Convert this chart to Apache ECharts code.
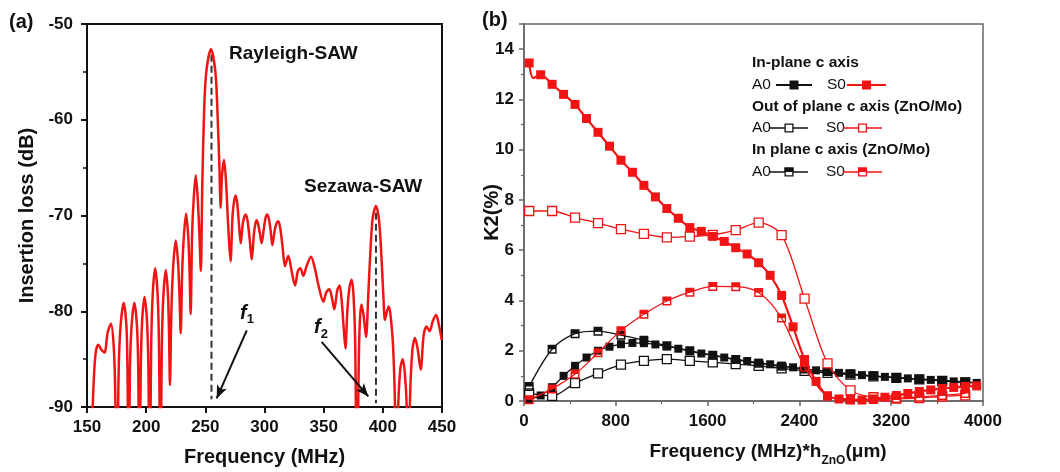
<!DOCTYPE html>
<html><head><meta charset="utf-8">
<script src="https://cdn.jsdelivr.net/npm/echarts@6/dist/echarts.min.js"></script>
<style>html,body{margin:0;padding:0;background:#fff}#c{width:1060px;height:472px}</style>
</head><body><div id="c"></div>
<script>
// ---------- Panel (a): insertion loss spectrum (MHz, dB) ----------
const freqA = [154.5,156,157.5,159.6,162,164.8,167.5,170.3,172.5,173.8,175.2,
  176.8,178.4,181,183.3,184.2,185.2,
  186.3,187.7,190,192.2,193.3,194.3,
  195.4,196.6,198.6,200.7,201.9,203,
  204.2,205.5,207.6,209.7,210.9,212,
  213.2,214.5,216.6,218.5,219.4,220.1,
  221.3,222.9,225,227,228.2,229.2,
  230.4,231.8,233.7,235.6,236.7,237.6,
  238.8,240.2,241.9,243.6,245,246.2,
  247.4,249,250.8,254.8,258.5,260.2,261.9,263,
  264,265.8,267.5,269.5,271.3,
  273,274.3,275.6,277,278.6,279.9,
  281.5,282.8,284.1,285.6,287.5,289.2,
  291,292.2,293.4,294.6,296,297.6,
  299.5,301,302.4,303.8,305.2,306.6,
  308.7,310.2,311.7,313.3,315.3,317.3,
  320.1,322.9,325.8,328.2,330.3,332.8,335.5,339.3,342.5,346,349.7,352.3,354.8,357,359,
  361.5,363.5,365.3,366.8,368.4,370,371.8,373.7,375.3,376.6,378.2,379.7,380.8,382,383.8,385.8,
  387.8,389.6,391.5,394.2,396.8,398.7,400.5,401.8,403.5,405,406.6,408.8,410.7,411.5,
  413,414.8,416.8,418.6,420.2,421.4,
  423,425,427.2,429.5,432,434.5,437,439.5,442.3,445,447.5,449.8];
const lossA = [-91,-86.5,-84.2,-83.5,-84,-84.3,-82.2,-81.3,-83.5,-88,-100,
  -86,-81.5,-79.1,-81.5,-86,-100,
  -86,-81.5,-79.1,-81.5,-86,-100,
  -86,-81,-78.5,-81,-86,-100,
  -84,-78.3,-75.5,-78.3,-84,-100,
  -84,-78.5,-75.7,-78.5,-83,-87.7,
  -80,-75.2,-72.6,-75,-78.5,-82.3,
  -76,-72.3,-69.8,-72.3,-76,-80.3,
  -72,-68.2,-65.8,-68.3,-72,-75.8,
  -67,-59,-55,-52.6,-55,-59,-65,-69.2,
  -66,-64.2,-66.5,-71.5,-74.8,
  -70,-68.5,-67.9,-68.8,-71.2,-72.9,
  -71,-70.2,-69.9,-70.5,-72.5,-74.6,
  -72,-70.9,-70.5,-70.9,-71.8,-72.9,
  -71.3,-70.2,-69.9,-70.4,-71.6,-73.1,
  -71.5,-70.8,-70.6,-71.3,-73.3,-75.3,
  -74.2,-75.8,-77.3,-75.8,-75.5,-76.3,-75.3,-74.3,-75.5,-77.5,-79.0,-78,-77.7,-78.6,-79.8,
  -77.8,-77.3,-79,-81.5,-83.9,-80,-77.5,-76.7,-78.5,-83,-100,-85,-80.5,-79.3,-80.5,-82.7,
  -78,-73.5,-70.2,-69.0,-70.5,-74,-78.5,-80.9,-80,-79.5,-80.5,-84,-92,-100,
  -90,-86,-85,-86.5,-90,-100,
  -89,-84,-82.8,-84,-86.1,-82.5,-81.6,-82.1,-81,-80.4,-81.5,-83];
const peakFreqs = [255.2, 394.2];       // f1, f2 (dashed markers)
const peakTopLoss = [-53.2, -69.7];
const peakBottomLoss = [-89.2, -89.6];
const arrowFrom = [[285, -82.0], [348.3, -83.2]];
const arrowTo = [[259.6, -89.1], [387.7, -88.9]];
const labelA = ['Rayleigh-SAW', 'Sezawa-SAW'];
const labelAPos = [[270, -53.1], [333.4, -67.0]];
const fLabelPos = [[285.2, -80.2], [347.8, -81.7]];

// ---------- Panel (b): K2 (%) vs Frequency (MHz)*h_ZnO (um) ----------
const xFine = [45,145,245,345,445,545,645,745,845,945,1045,1145,1245,1345,1445,1545,1645,1745,1845,1945,
  2045,2145,2245,2345,2445,2545,2645,2745,2845,2945,3045,3145,3245,3345,3445,3545,3645,3745,3845,3945];
const xCoarse = [45,245,445,645,845,1045,1245,1445,1645,1845,2045,2245,2445,2645,2845,3045,3245,3445,3645,3845];
const inPlaneS0 = [13.45,12.98,12.6,12.2,11.8,11.24,10.69,10.14,9.58,9.1,8.58,8.12,7.66,7.27,6.9,6.75,6.55,6.35,6.1,5.85,
  5.5,5.0,4.2,2.95,1.65,0.78,0.2,0.08,0.04,0.04,0.08,0.15,0.22,0.3,0.38,0.44,0.5,0.54,0.58,0.6];
const inPlaneS0Dip = [80, 12.85];
const inPlaneA0 = [0.05,0.22,0.55,1.0,1.4,1.73,2.0,2.16,2.26,2.31,2.3,2.25,2.17,2.08,1.98,1.89,1.81,1.73,1.66,1.59,
  1.52,1.46,1.4,1.34,1.28,1.22,1.17,1.12,1.07,1.03,0.99,0.96,0.93,0.9,0.87,0.84,0.81,0.78,0.75,0.72];
const outPlaneS0 = [7.56,7.56,7.3,7.08,6.84,6.65,6.51,6.54,6.61,6.8,7.1,6.6,4.07,1.5,0.42,0.15,0.1,0.12,0.18,0.22];
const outPlaneA0 = [0.3,0.2,0.71,1.1,1.45,1.6,1.67,1.6,1.54,1.47,1.4,1.3,1.2,1.12,1.05,0.98,0.92,0.86,0.8,0.74];
const znoMoS0 = [0.05,0.48,1.07,1.92,2.8,3.45,3.98,4.33,4.56,4.55,4.32,3.3,1.35,0.2,0.08,0.06,0.1,0.15,0.22,0.3];
const znoMoA0 = [0.58,2.06,2.68,2.78,2.62,2.42,2.2,2.0,1.82,1.65,1.5,1.38,1.27,1.17,1.08,1.0,0.93,0.87,0.82,0.76];

const FONT = '"Liberation Sans", Arial, sans-serif';
const RED = '#f01414';
const HALF = 'path://M0,0L10,0L10,10L0,10Z M1.6,5L1.6,8.4L8.4,8.4L8.4,5Z';
const zip = (xs, ys) => xs.map((x, i) => [x, ys[i]]);

const chart = echarts.init(document.getElementById('c'));

function bSeries(xs, ys, color, kind, lw, size, z) {
  const s = {
    type: 'line', xAxisIndex: 1, yAxisIndex: 1, data: zip(xs, ys), smooth: 0.3,
    lineStyle: { color: color, width: lw }, symbolSize: size, z: z,
    itemStyle: { color: color }
  };
  if (kind === 'filled') s.symbol = 'rect';
  if (kind === 'open') { s.symbol = 'rect'; s.itemStyle = { color: '#fff', borderColor: color, borderWidth: 1.3 }; }
  if (kind === 'half') { s.symbol = HALF; s.itemStyle = { color: color, borderWidth: 0 }; }
  return s;
}

const s0Data = zip(xFine, inPlaneS0);
s0Data.splice(1, 0, { value: inPlaneS0Dip, symbol: 'none' });

const axisLbl = { fontFamily: FONT, fontWeight: 'bold', fontSize: 17, color: '#111' };
const nameStyle = { fontFamily: FONT, fontWeight: 'bold', fontSize: 20, color: '#111' };

chart.setOption({
  animation: false,
  backgroundColor: '#fff',
  grid: [
    { left: 87, right: 618, top: 24, bottom: 65, show: true, borderColor: '#111', borderWidth: 2, containLabel: false },
    { left: 524, right: 77, top: 24, bottom: 68, show: true, borderColor: '#666', borderWidth: 1.5, containLabel: false }
  ],
  xAxis: [
    { gridIndex: 0, type: 'value', min: 150, max: 450, interval: 50,
      axisLine: { lineStyle: { color: '#111', width: 2 } },
      axisTick: { length: 6, lineStyle: { color: '#111', width: 2 } },
      axisLabel: Object.assign({ margin: 12 }, axisLbl),
      splitLine: { show: false },
      name: 'Frequency (MHz)', nameLocation: 'middle', nameGap: 40, nameMoveOverlap: false, nameTextStyle: nameStyle },
    { gridIndex: 1, type: 'value', min: 0, max: 4000, interval: 800,
      axisLine: { lineStyle: { color: '#666', width: 1.5 } },
      axisTick: { length: 5, lineStyle: { color: '#666', width: 1.5 } },
      minorTick: { show: true, splitNumber: 2, length: 3, lineStyle: { color: '#666', width: 1.2 } },
      axisLabel: Object.assign({ margin: 12, formatter: v => String(v) }, axisLbl),
      splitLine: { show: false },
      name: '{a|Frequency (MHz)*h}{s|ZnO}{a|(\u03bcm)}', nameLocation: 'middle', nameGap: 36, nameMoveOverlap: false,
      nameTextStyle: { padding: [0, 0, 0, 29], rich: {
        a: { fontFamily: FONT, fontWeight: 'bold', fontSize: 19, color: '#111', lineHeight: 30, verticalAlign: 'middle' },
        s: { fontFamily: FONT, fontWeight: 'bold', fontSize: 12, color: '#111', lineHeight: 30, verticalAlign: 'bottom' } } } }
  ],
  yAxis: [
    { gridIndex: 0, type: 'value', min: -90, max: -50, interval: 10,
      axisLine: { lineStyle: { color: '#111', width: 2 } },
      axisTick: { length: 6, lineStyle: { color: '#111', width: 2 } },
      minorTick: { show: true, splitNumber: 2, length: 4, lineStyle: { color: '#111', width: 1.5 } },
      axisLabel: Object.assign({ margin: 14 }, axisLbl),
      splitLine: { show: false },
      name: 'Insertion loss (dB)', nameLocation: 'middle', nameGap: 50, nameMoveOverlap: false, nameTextStyle: nameStyle },
    { gridIndex: 1, type: 'value', min: 0, max: 15, interval: 2,
      axisLine: { lineStyle: { color: '#666', width: 1.5 } },
      axisTick: { length: 5, lineStyle: { color: '#666', width: 1.5 } },
      minorTick: { show: true, splitNumber: 2, length: 3, lineStyle: { color: '#666', width: 1.2 } },
      axisLabel: Object.assign({ margin: 10, formatter: v => (v > 14 ? '' : String(v)) }, axisLbl),
      splitLine: { show: false },
      name: 'K2(%)', nameLocation: 'middle', nameGap: 22, nameMoveOverlap: false, nameTextStyle: nameStyle }
  ],
  series: [
    { type: 'line', xAxisIndex: 0, yAxisIndex: 0, data: zip(freqA, lossA), smooth: 0.3, symbol: 'none',
      lineStyle: { color: RED, width: 2.5 }, z: 3 },
    { type: 'line', xAxisIndex: 0, yAxisIndex: 0, symbol: 'none', z: 2,
      data: [[peakFreqs[0], peakTopLoss[0]], [peakFreqs[0], peakBottomLoss[0]]],
      lineStyle: { color: '#333', width: 2, type: [7, 4] } },
    { type: 'line', xAxisIndex: 0, yAxisIndex: 0, symbol: 'none', z: 2,
      data: [[peakFreqs[1], peakTopLoss[1]], [peakFreqs[1], peakBottomLoss[1]]],
      lineStyle: { color: '#333', width: 2, type: [7, 4] },
      markLine: { silent: true, symbol: ['none', 'arrow'], symbolSize: [8, 13], animation: false,
        lineStyle: { color: '#111', width: 2, type: 'solid' }, label: { show: false },
        data: [[{ coord: arrowFrom[0] }, { coord: arrowTo[0] }], [{ coord: arrowFrom[1] }, { coord: arrowTo[1] }]] } },
    bSeries(xCoarse, outPlaneA0, '#111', 'open', 1.3, 9, 3),
    bSeries(xCoarse, znoMoA0, '#111', 'half', 1.3, 9, 4),
    bSeries(xFine, inPlaneA0, '#111', 'filled', 1.3, 8, 5),
    bSeries(xCoarse, outPlaneS0, RED, 'open', 1.3, 9, 6),
    bSeries(xCoarse, znoMoS0, RED, 'half', 1.3, 9, 7),
    Object.assign(bSeries(xFine, inPlaneS0, RED, 'filled', 2.2, 9, 8), { data: s0Data })
  ]
});

// Annotations placed from data coordinates
const px = (p) => chart.convertToPixel({ gridIndex: 0 }, p);
const g = [];
const txt = (x, y, t, opt) => Object.assign({ type: 'text', x: x, y: y, silent: true,
  style: Object.assign({ text: t, fontFamily: FONT, fontWeight: 'bold', fontSize: 19, fill: '#111' }, opt || {}) });
labelA.forEach((t, i) => { const p = px(labelAPos[i]); g.push(txt(p[0], p[1], t, { verticalAlign: 'middle' })); });
['1', '2'].forEach((n, i) => {
  const p = px(fLabelPos[i]);
  g.push({ type: 'text', x: p[0], y: p[1], silent: true, style: {
    text: '{f|f}{n|' + n + '}', align: 'center', verticalAlign: 'middle',
    rich: { f: { fontFamily: FONT, fontWeight: 'bold', fontStyle: 'italic', fontSize: 20, fill: '#111', lineHeight: 26, verticalAlign: 'middle' },
            n: { fontFamily: FONT, fontWeight: 'bold', fontSize: 13, fill: '#111', lineHeight: 26, verticalAlign: 'bottom' } } } });
});
g.push(txt(9, 22, '(a)', { verticalAlign: 'middle', fontSize: 20 }));
g.push(txt(482, 20, '(b)', { verticalAlign: 'middle', fontSize: 20 }));

// Legend of panel (b)
const LX = 752, rows = [63, 85, 106.5, 128, 150, 172];
const head = (y, t) => g.push(txt(LX, y, t, { verticalAlign: 'middle', fontSize: 15.5 }));
const reg = (x, y, t) => g.push(txt(x, y, t, { verticalAlign: 'middle', fontSize: 15.5, fontWeight: 'normal' }));
function sample(x1, x2, y, color, kind, lw) {
  g.push({ type: 'line', silent: true, shape: { x1: x1, y1: y, x2: x2, y2: y }, style: { stroke: color, lineWidth: lw } });
  const c = (x1 + x2) / 2, h = 4.5;
  if (kind === 'filled') g.push({ type: 'rect', silent: true, shape: { x: c - h, y: y - h, width: 2 * h, height: 2 * h }, style: { fill: color } });
  else {
    g.push({ type: 'rect', silent: true, shape: { x: c - h + 0.6, y: y - h + 0.6, width: 2 * h - 1.2, height: 2 * h - 1.2 }, style: { fill: '#fff', stroke: color, lineWidth: 1.3 } });
    if (kind === 'half') g.push({ type: 'rect', silent: true, shape: { x: c - h, y: y - h, width: 2 * h, height: h }, style: { fill: color } });
  }
}
head(rows[0], 'In-plane c axis');
reg(LX, rows[1], 'A0'); sample(776, 812, rows[1], '#111', 'filled', 2);
reg(827, rows[1], 'S0'); sample(847, 886, rows[1], RED, 'filled', 2);
head(rows[2], 'Out of plane c axis (ZnO/Mo)');
reg(LX, rows[3], 'A0'); sample(770, 808, rows[3], '#111', 'open', 1.5);
reg(826, rows[3], 'S0'); sample(843, 882, rows[3], RED, 'open', 1.5);
head(rows[4], 'In plane c axis (ZnO/Mo)');
reg(LX, rows[5], 'A0'); sample(770, 808, rows[5], '#111', 'half', 1.5);
reg(826, rows[5], 'S0'); sample(843, 882, rows[5], RED, 'half', 1.5);

chart.setOption({ graphic: g });
</script>
</body></html>
